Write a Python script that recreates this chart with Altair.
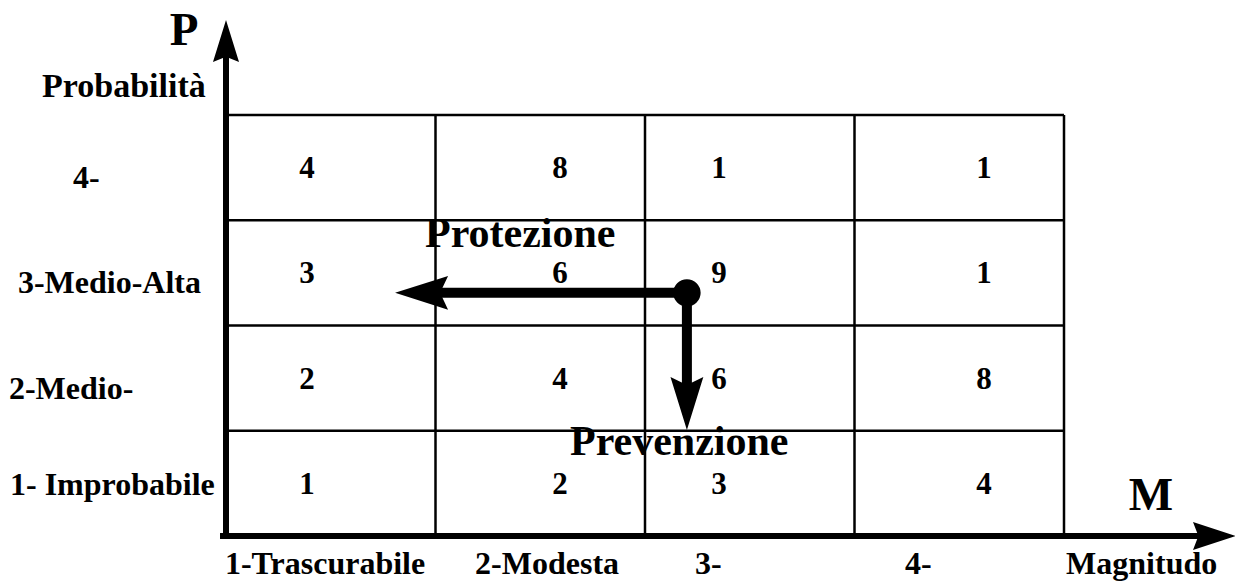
import altair as alt
import pandas as pd

# ---------------- data ----------------
magnitudo_labels = ["1-Trascurabile", "2-Modesta", "3-", "4-"]
probabilita_labels = ["1- Improbabile", "2-Medio-", "3-Medio-Alta", "4-"]
# risk values, one list per probability row (P = 1 .. 4), columns M = 1 .. 4
risk_p1 = [1, 2, 3, 4]
risk_p2 = [2, 4, 6, 8]
risk_p3 = [3, 6, 9, 1]
risk_p4 = [4, 8, 1, 1]
axis_titles = ["Probabilità", "Magnitudo"]
axis_letters = ["P", "M"]
measure_labels = ["Protezione", "Prevenzione"]

# ---------------- layout (grid units) ----------------
W, H = 1227, 573
UX, UY = 209.5, 105.25          # px per grid unit
X0, Y0 = 218, 528               # plot px of grid origin
xdom = [-X0 / UX, -X0 / UX + W / UX]
ydom = [Y0 / UY - H / UY, Y0 / UY]
xs = alt.Scale(domain=xdom, nice=False, zero=False)
ys = alt.Scale(domain=ydom, nice=False, zero=False)
FONT = "Liberation Serif"

num_dx = [-0.113, 0.094, -0.147, 0.118]
rowlab_x = [-1.031, -1.036, -0.993, -0.730]
rowlab_y = [0.3895, 1.3017, 2.3088, 3.3064]
collab_x = [-0.005, 1.189, 2.239, 3.241]
collab_y = -0.361


def X(f="x"):
    return alt.X(f"{f}:Q", scale=xs, axis=None)


def Y(f="y"):
    return alt.Y(f"{f}:Q", scale=ys, axis=None)


# grid cells numbers
rows = [risk_p1, risk_p2, risk_p3, risk_p4]
cells = []
for p, row in enumerate(rows, start=1):
    for m, v in enumerate(row, start=1):
        cells.append({"x": m - 0.5 + num_dx[m - 1], "y": p - 0.5, "t": str(v)})
cells_df = pd.DataFrame(cells)

# grid lines
n = len(magnitudo_labels)
hlines = pd.DataFrame({"x": [0] * n, "x2": [n] * n, "y": list(range(1, n + 1))})
vlines = pd.DataFrame({"x": list(range(1, n + 1)), "y": [0] * n, "y2": [n] * n})

grid_h = alt.Chart(hlines).mark_rule(color="black", strokeWidth=2.5).encode(
    x=X(), x2="x2:Q", y=Y())
grid_v = alt.Chart(vlines).mark_rule(color="black", strokeWidth=2.5).encode(
    x=X(), y=Y(), y2="y2:Q")

# axes (thick arrows)
axes_df = pd.DataFrame({"x": [0, -0.0286], "x2": [0, 4.65], "y": [-0.0285, 0], "y2": [4.62, 0]})
axes_lines = alt.Chart(axes_df).mark_rule(color="black", strokeWidth=6).encode(
    x=X(), x2="x2:Q", y=Y(), y2="y2:Q")

yhead = alt.Chart(pd.DataFrame({"x": [0], "y": [4.903]})).mark_point(
    shape="M0,0L-0.62,2L0,1.75L0.62,2Z", size=1764, filled=True, color="black", opacity=1,
    strokeWidth=0).encode(x=X(), y=Y())
xhead = alt.Chart(pd.DataFrame({"x": [4.821], "y": [0]})).mark_point(
    shape="M0,0L-2,-0.65L-1.75,0L-2,0.65Z", size=1849, filled=True, color="black", opacity=1,
    strokeWidth=0).encode(x=X(), y=Y())

# measure arrows (protezione: left, prevenzione: down)
start = (2.2, 2.31)
arr_df = pd.DataFrame({"x": [start[0], start[0]], "x2": [1.02, start[0]],
                       "y": [start[1], start[1]], "y2": [start[1], 1.43]})
arr_lines = alt.Chart(arr_df).mark_rule(color="black", strokeWidth=10).encode(
    x=X(), x2="x2:Q", y=Y(), y2="y2:Q")
left_head = alt.Chart(pd.DataFrame({"x": [0.807], "y": [start[1]]})).mark_point(
    shape="M0,0L2,-0.64L1.7,0L2,0.64Z", size=2809, filled=True, color="black", opacity=1,
    strokeWidth=0).encode(x=X(), y=Y())
down_head = alt.Chart(pd.DataFrame({"x": [start[0]], "y": [1.007]})).mark_point(
    shape="M0,0L-0.62,-2L0,-1.7L0.62,-2Z", size=2809, filled=True, color="black", opacity=1,
    strokeWidth=0).encode(x=X(), y=Y())
dot = alt.Chart(pd.DataFrame({"x": [start[0]], "y": [start[1]]})).mark_point(
    shape="circle", size=755, filled=True, color="black", opacity=1, strokeWidth=0).encode(
    x=X(), y=Y())

# texts
num_text = alt.Chart(cells_df).mark_text(
    font=FONT, fontWeight="bold", fontSize=31, align="center", baseline="alphabetic",
    dy=10.5, color="black").encode(x=X(), y=Y(), text="t:N")

rowlab_df = pd.DataFrame({"x": rowlab_x, "y": rowlab_y, "t": probabilita_labels})
rowlab = alt.Chart(rowlab_df).mark_text(
    font=FONT, fontWeight="bold", fontSize=32, align="left", baseline="alphabetic",
    color="black").encode(x=X(), y=Y(), text="t:N")

collab_df = pd.DataFrame({"x": collab_x + [4.010], "y": [collab_y] * 5,
                          "t": magnitudo_labels + [axis_titles[1]]})
collab = alt.Chart(collab_df).mark_text(
    font=FONT, fontWeight="bold", fontSize=32, align="left", baseline="alphabetic",
    color="black").encode(x=X(), y=Y(), text="t:N")

prob_title = alt.Chart(pd.DataFrame({"x": [-0.878], "y": [4.171], "t": [axis_titles[0]]})).mark_text(
    font=FONT, fontWeight="bold", fontSize=34, align="left", baseline="alphabetic",
    color="black").encode(x=X(), y=Y(), text="t:N")

letters = alt.Chart(pd.DataFrame({"x": [-0.2005, 4.415], "y": [4.665, 0.247],
                                  "t": axis_letters})).mark_text(
    font=FONT, fontWeight="bold", fontSize=47, align="center", baseline="alphabetic",
    color="black").encode(x=X(), y=Y(), text="t:N")

measures = alt.Chart(pd.DataFrame({"x": [0.950, 1.642], "y": [2.746, 0.770],
                                   "t": measure_labels})).mark_text(
    font=FONT, fontWeight="bold", fontSize=42, align="left", baseline="alphabetic",
    color="black").encode(x=X(), y=Y(), text="t:N")

chart = alt.layer(
    grid_h, grid_v, axes_lines, yhead, xhead,
    num_text, rowlab, collab, prob_title, letters, measures,
    arr_lines, left_head, down_head, dot,
).properties(
    width=W, height=H, padding=0, autosize=alt.AutoSizeParams(type="none"),
    background="white",
).configure_view(stroke=None)

chart.save("out.html", embed_options={"renderer": "svg", "actions": False})
